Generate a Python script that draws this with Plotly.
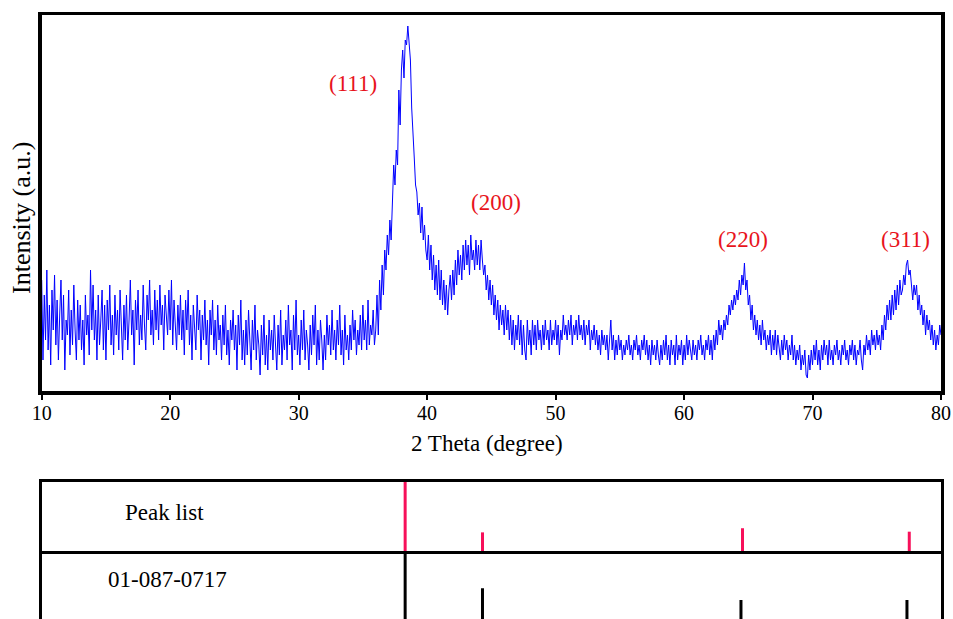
import plotly.graph_objects as go

# ---------------- data ----------------
# XRD scan, 2-theta from 10.0 to 80.0 deg in 0.1 deg steps (one row per degree)
intensity = [
    110, 30, 95, 50, 120, 40, 85, 25, 100, 60,     # 10
    115, 45, 90, 30, 75, 110, 50, 95, 20, 70,      # 11
    55, 100, 35, 80, 45, 105, 60, 30, 90, 50,      # 12
    85, 40, 70, 25, 95, 55, 75, 35, 120, 60,       # 13
    105, 50, 80, 30, 95, 45, 70, 100, 40, 85,      # 14
    30, 90, 60, 105, 45, 75, 35, 95, 55, 80,       # 15
    40, 100, 65, 30, 85, 50, 95, 40, 70, 110,      # 16
    55, 80, 25, 90, 60, 100, 45, 75, 50, 105,      # 17
    65, 40, 95, 70, 110, 55, 80, 45, 100, 60,      # 18
    90, 50, 105, 65, 85, 40, 95, 70, 55, 100,      # 19
    60, 110, 45, 90, 70, 40, 85, 55, 95, 50,       # 20
    80, 35, 90, 60, 100, 45, 75, 30, 85, 55,       # 21
    40, 95, 60, 80, 30, 75, 50, 90, 45, 70,        # 22
    25, 80, 55, 90, 40, 70, 35, 85, 50, 65,        # 23
    30, 75, 45, 85, 35, 60, 25, 70, 50, 80,        # 24
    40, 65, 20, 75, 45, 90, 30, 60, 25, 70,        # 25
    35, 80, 50, 20, 70, 40, 85, 30, 60, 45,        # 26
    15, 65, 35, 75, 25, 55, 20, 70, 40, 60,        # 27
    30, 75, 45, 20, 65, 35, 80, 25, 55, 40,        # 28
    70, 30, 85, 45, 60, 20, 75, 40, 90, 35,        # 29
    55, 25, 70, 40, 80, 30, 60, 45, 20, 65,        # 30
    35, 75, 45, 85, 25, 60, 30, 70, 50, 20,        # 31
    55, 30, 75, 45, 65, 35, 80, 40, 60, 30,        # 32
    70, 45, 85, 35, 60, 25, 75, 40, 55, 30,        # 33
    65, 40, 80, 50, 70, 35, 60, 45, 75, 40,        # 34
    85, 50, 70, 40, 90, 45, 65, 55, 80, 45,        # 35
    60, 95, 55, 110, 80, 125, 95, 140, 120, 155,   # 36
    135, 170, 150, 195, 225, 205, 240, 225, 300, 265,  # 37
    320, 340, 312, 350, 345, 364, 348, 330, 282, 250,  # 38
    232, 205, 198, 175, 187, 157, 183, 150, 165, 140,  # 39
    130, 155, 120, 145, 110, 135, 100, 125, 95, 130,   # 40
    90, 120, 85, 110, 80, 105, 75, 100, 115, 90,       # 41
    120, 95, 130, 105, 140, 115, 135, 110, 145, 120,   # 42
    150, 125, 145, 115, 155, 130, 140, 120, 150, 125,  # 43
    145, 120, 150, 130, 115, 125, 100, 115, 90, 110,   # 44
    85, 105, 75, 95, 70, 90, 60, 85, 65, 80,       # 45
    55, 85, 60, 80, 50, 75, 45, 70, 40, 65,        # 46
    50, 75, 45, 70, 35, 65, 40, 30, 70, 45,        # 47
    60, 35, 70, 45, 65, 40, 70, 50, 60, 40,        # 48
    65, 45, 70, 50, 60, 40, 70, 45, 60, 50,        # 49
    70, 45, 65, 35, 60, 50, 75, 55, 65, 50,        # 50
    70, 55, 75, 45, 65, 55, 70, 50, 75, 55,        # 51
    65, 50, 70, 45, 65, 55, 70, 40, 60, 50,        # 52
    65, 45, 60, 40, 55, 35, 60, 45, 55, 40,        # 53
    55, 30, 50, 70, 40, 55, 30, 50, 35, 55,        # 54
    40, 50, 30, 45, 35, 50, 40, 55, 35, 45,        # 55
    30, 50, 40, 55, 35, 45, 30, 50, 40, 55,        # 56
    35, 50, 30, 45, 25, 50, 35, 45, 30, 50,        # 57
    35, 25, 45, 30, 50, 35, 55, 30, 45, 25,        # 58
    50, 35, 45, 25, 55, 30, 45, 35, 50, 25,        # 59
    45, 30, 55, 35, 50, 40, 30, 50, 35, 45,        # 60
    30, 50, 40, 55, 35, 45, 30, 50, 40, 55,        # 61
    35, 50, 30, 55, 40, 60, 45, 70, 55, 65,        # 62
    50, 70, 60, 75, 65, 85, 75, 90, 80, 95,        # 63
    85, 100, 90, 110, 95, 115, 105, 127, 100, 110, # 64
    85, 95, 70, 85, 60, 75, 55, 70, 50, 65,        # 65
    45, 70, 50, 60, 40, 55, 45, 60, 35, 55,        # 66
    40, 60, 35, 55, 45, 30, 50, 35, 55, 40,        # 67
    50, 30, 45, 35, 55, 30, 45, 25, 40, 30,        # 68
    45, 20, 35, 25, 40, 15, 12, 35, 20, 40,        # 69
    25, 45, 30, 50, 25, 40, 20, 45, 30, 50,        # 70
    35, 45, 25, 50, 30, 40, 25, 45, 35, 50,        # 71
    30, 40, 25, 45, 35, 50, 30, 40, 25, 45,        # 72
    35, 50, 30, 45, 25, 40, 35, 50, 30, 20,        # 73
    45, 35, 55, 40, 50, 35, 60, 45, 55, 40,        # 74
    60, 45, 55, 40, 65, 50, 75, 60, 85, 70,        # 75
    90, 70, 95, 75, 100, 80, 105, 85, 110, 95,     # 76
    100, 115, 105, 125, 130, 115, 120, 100, 90, 105,  # 77
    95, 105, 80, 95, 75, 85, 65, 80, 55, 75,       # 78
    60, 70, 50, 65, 45, 60, 40, 55, 45, 65,        # 79
    55,                                            # 80.0
]
scan_start = 10.0
scan_step = 0.1
two_theta = [round(scan_start + scan_step * i, 1) for i in range(len(intensity))]

# Peak list (measured) and reference card 01-087-0717, relative intensity (%)
peak_pos = [38.29, 44.31, 64.55, 77.53]
peak_int = [100, 27, 33, 28]
card_pos = [38.29, 44.31, 64.43, 77.35]
card_int = [100, 46, 29, 29]

hkl_labels = ["(111)", "(200)", "(220)", "(311)"]
hkl_x = [34.24, 45.37, 64.61, 77.22]
hkl_y = [306, 187, 150, 150]

x_ticks = [10, 20, 30, 40, 50, 60, 70, 80]

# ---------------- figure ----------------
FONT = "Liberation Serif, Times New Roman, serif"
RED_TXT = "#e8141c"
RED_STICK = "#f7105a"

def sticks(pos, val):
    xs, ys = [], []
    for p, v in zip(pos, val):
        xs += [p, p, None]
        ys += [-5, v, None]
    return xs, ys

fig = go.Figure()
fig.add_trace(go.Scatter(x=two_theta, y=intensity, mode="lines",
                         line=dict(color="#0000ff", width=1),
                         xaxis="x", yaxis="y", showlegend=False, hoverinfo="skip"))
sx, sy = sticks(peak_pos, peak_int)
fig.add_trace(go.Scatter(x=sx, y=sy, mode="lines", line=dict(color=RED_STICK, width=3),
                         xaxis="x2", yaxis="y2", showlegend=False, hoverinfo="skip"))
cx, cy = sticks(card_pos, card_int)
fig.add_trace(go.Scatter(x=cx, y=cy, mode="lines", line=dict(color="black", width=3),
                         xaxis="x3", yaxis="y3", showlegend=False, hoverinfo="skip"))

# the page body margin is removed below, so the figure fills the window exactly
W, H = 953, 619

def px(xw):   # window pixel x -> paper fraction
    return xw / W

def py(yw):   # window pixel y -> paper fraction
    return 1 - yw / H

xdom = [px(41.7), px(941.0)]
def ydom(top_px, bot_px):
    return [max(0.0, py(bot_px)), min(1.0, py(top_px))]

common_x = dict(domain=xdom, range=[10, 80], showgrid=False, zeroline=False,
                automargin=False)
fig.update_layout(
    template="none",
    width=W, height=H,
    autosize=False,
    margin=dict(l=0, r=0, t=0, b=0, pad=0, autoexpand=False),
    paper_bgcolor="white", plot_bgcolor="white",
    font=dict(family=FONT, color="black"),
    hovermode=False,
    xaxis=dict(**common_x, anchor="y", showline=True, linewidth=3.5, linecolor="black",
               mirror=True, ticks="outside", ticklen=5, tickwidth=2, tickcolor="black",
               tickvals=x_ticks, ticktext=[str(t) for t in x_ticks],
               ticklabelstandoff=-4,
               tickfont=dict(family=FONT, size=20, color="black")),
    yaxis=dict(domain=ydom(15, 391), range=[-1, 375], anchor="x", showline=True,
               linewidth=3.5, linecolor="black", mirror=True, showticklabels=False,
               ticks="", showgrid=False, zeroline=False, automargin=False),
    xaxis2=dict(**common_x, anchor="y2", showline=True, linewidth=3, linecolor="black",
                mirror=True, showticklabels=False, ticks=""),
    yaxis2=dict(domain=ydom(482, 551), range=[0, 100], anchor="x2", showline=True,
                linewidth=3, linecolor="black", mirror=True, showticklabels=False,
                ticks="", showgrid=False, zeroline=False, automargin=False),
    xaxis3=dict(**common_x, anchor="y3", visible=False),
    yaxis3=dict(domain=ydom(551, 619), range=[1.45, 100], anchor="x3", showline=True,
                linewidth=3, linecolor="black", mirror=True, showticklabels=False,
                ticks="", showgrid=False, zeroline=False, automargin=False),
)

for lab, lx, ly in zip(hkl_labels, hkl_x, hkl_y):
    fig.add_annotation(x=lx, y=ly, xref="x", yref="y", text=lab, showarrow=False,
                       font=dict(family=FONT, size=23, color=RED_TXT),
                       xanchor="center", yanchor="middle")

fig.add_annotation(x=px(487), y=py(443), xref="paper", yref="paper",
                   text="2 Theta (degree)", showarrow=False,
                   font=dict(family=FONT, size=23, color="black"),
                   xanchor="center", yanchor="middle")
fig.add_annotation(x=px(22), y=py(218), xref="paper", yref="paper",
                   text="Intensity (a.u.)", showarrow=False, textangle=-90,
                   font=dict(family=FONT, size=26, color="black"),
                   xanchor="center", yanchor="middle")
fig.add_annotation(x=px(164.5), y=py(512), xref="paper", yref="paper",
                   text="Peak list", showarrow=False,
                   font=dict(family=FONT, size=23, color="black"),
                   xanchor="center", yanchor="middle")
fig.add_annotation(x=px(167.5), y=py(579), xref="paper", yref="paper",
                   text="01-087-0717", showarrow=False,
                   font=dict(family=FONT, size=23, color="black"),
                   xanchor="center", yanchor="middle")

fig.write_html(
    "out.html",
    config={"responsive": False, "displayModeBar": False, "staticPlot": True},
    post_script=("document.body.style.margin='0';"
                 "document.body.style.overflow='hidden';"
                 "document.documentElement.style.overflow='hidden';"),
)
